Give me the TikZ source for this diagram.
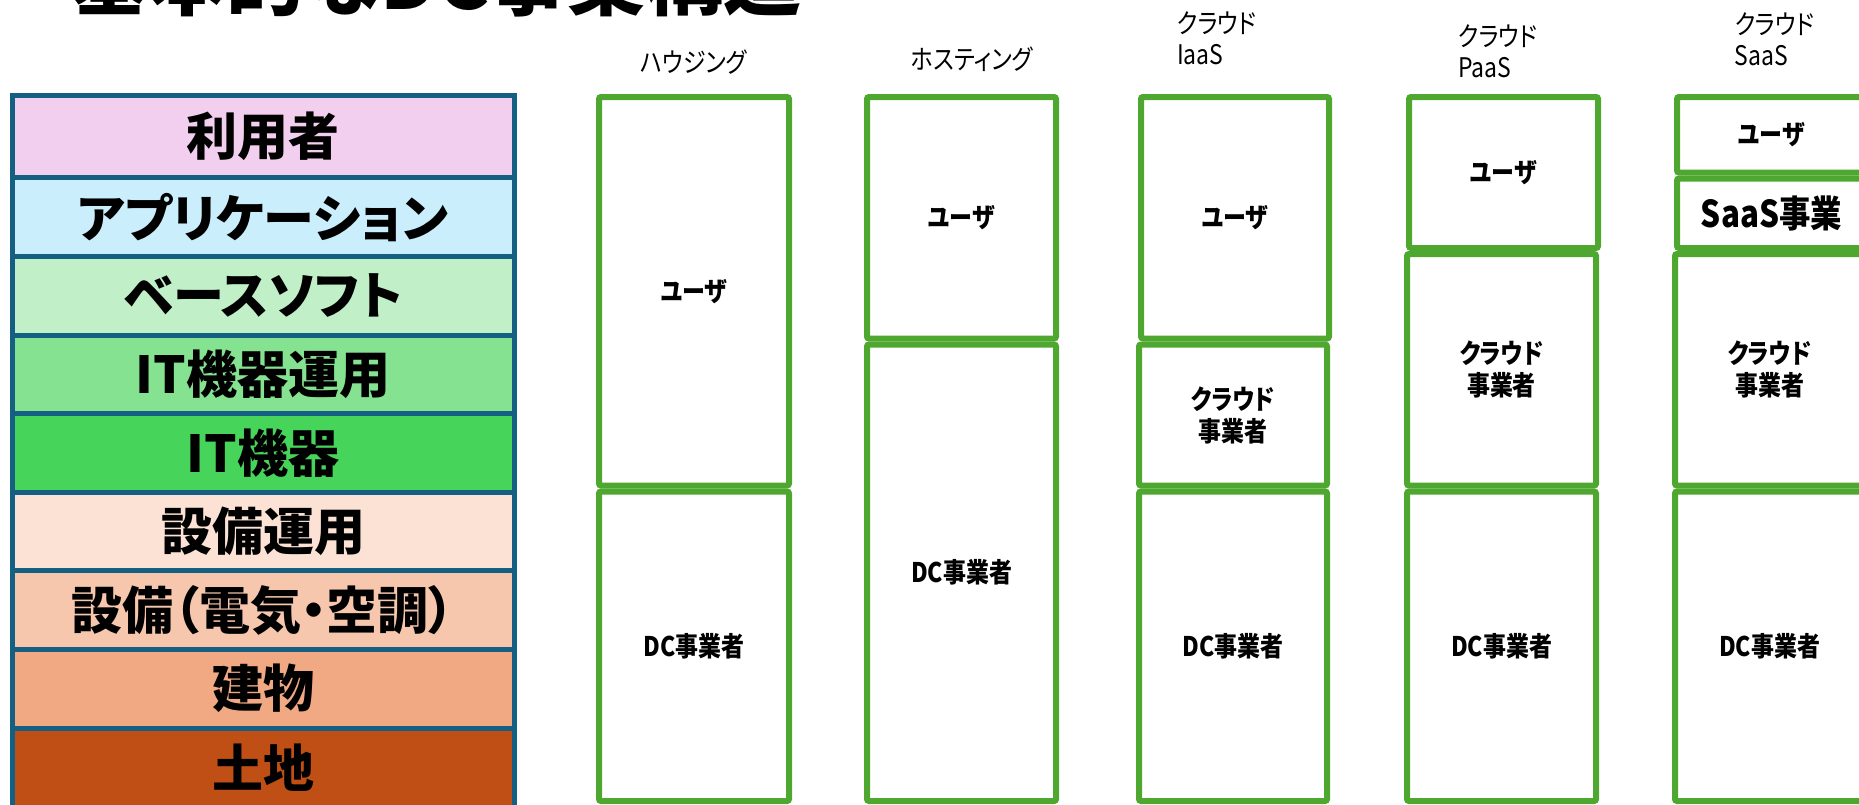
\documentclass[tikz,border=0pt]{standalone}
\usepackage{fontspec}
\setmainfont{Noto Sans CJK JP}[RawFeature=+palt]
\newfontfamily\cond{Noto Sans CJK JP}[FakeStretch=0.85,RawFeature=+palt]
\definecolor{stackblue}{HTML}{156082}
\definecolor{boxgreen}{HTML}{4EA72E}
\definecolor{cpink}{HTML}{F2CEEF}
\definecolor{cblue}{HTML}{CAEEFB}
\definecolor{cgreenA}{HTML}{C1F0C8}
\definecolor{cgreenB}{HTML}{84E291}
\definecolor{cgreenC}{HTML}{47D45A}
\definecolor{cpeachA}{HTML}{FBE2D5}
\definecolor{cpeachB}{HTML}{F6C6AD}
\definecolor{cpeachC}{HTML}{F1A983}
\definecolor{cbrown}{HTML}{C04F15}
\newcommand\placebox[7]{\node[#2,minimum width={(#5)-(#3)},minimum height={(#6)-(#4)}] (#1) at ({((#3)+(#5))/2},{((#4)+(#6))/2}) {#7};}
\begin{document}
\begin{tikzpicture}[x=1pt,y=-1pt,
  stackrow/.style={draw=stackblue, line width=5pt, inner sep=0pt, text=black,
    font=\fontsize{51}{60}\selectfont\bfseries},
  gbox/.style={draw=boxgreen, line width=6pt, rounded corners=2pt, inner sep=0pt,
    align=center, font=\cond\fontsize{27}{32}\selectfont\bfseries},
  hdr/.style={font=\cond\fontsize{27}{31}\selectfont, align=left, inner sep=0pt},
]
\useasboundingbox (0,0) rectangle (1859,804);
\clip (0,0) rectangle (1859,804);
% title
\node[anchor=base west, inner sep=0pt, font=\fontsize{78}{90}\selectfont\bfseries] (title) at (70,9) {基本的なDC事業構造};
% left stack
\placebox{r1}{stackrow,fill=cpink}{12}{95}{514}{177.8}{利用者}
\placebox{r2}{stackrow,fill=cblue}{12}{177.8}{514}{256.4}{アプリケーション}
\placebox{r3}{stackrow,fill=cgreenA}{12}{256.4}{514}{335}{ベースソフト}
\placebox{r4}{stackrow,fill=cgreenB}{12}{335}{514}{413.6}{IT機器運用}
\placebox{r5}{stackrow,fill=cgreenC}{12}{413.6}{514}{492.2}{IT機器}
\placebox{r6}{stackrow,fill=cpeachA}{12}{492.2}{514}{570.8}{設備運用}
\placebox{r7}{stackrow,fill=cpeachB}{12}{570.8}{514}{649.4}{設備（電気・空調）}
\placebox{r8}{stackrow,fill=cpeachC}{12}{649.4}{514}{728}{建物}
\placebox{r9}{stackrow,fill=cbrown}{12}{728}{514}{808}{土地}
% headers
\node[hdr] (h1) at (693.6,61.6) {ハウジング};
\node[hdr] (h2) at (972,59) {ホスティング};
\node[hdr,anchor=west] (h3) at (1177,38.5) {クラウド\\IaaS};
\node[hdr,anchor=west] (h4) at (1458,51.6) {クラウド\\PaaS};
\node[hdr,anchor=west] (h5) at (1734.5,39.7) {クラウド\\SaaS};
% column 1: housing
\placebox{c1u}{gbox}{599}{97}{789}{485.5}{ユーザ}
\placebox{c1d}{gbox}{599}{491.5}{789}{801}{DC事業者}
% column 2: hosting
\placebox{c2u}{gbox}{867}{97}{1056}{338.5}{ユーザ}
\placebox{c2d}{gbox}{867}{344.5}{1056}{801}{DC事業者}
% column 3: IaaS
\placebox{c3u}{gbox}{1141}{97}{1329}{338.5}{ユーザ}
\placebox{c3c}{gbox}{1139}{344.5}{1327}{485.5}{クラウド\\事業者}
\placebox{c3d}{gbox}{1139}{491.5}{1327}{801}{DC事業者}
% column 4: PaaS
\placebox{c4u}{gbox}{1409}{97}{1598}{248}{ユーザ}
\placebox{c4c}{gbox}{1407}{254}{1596}{485.5}{クラウド\\事業者}
\placebox{c4d}{gbox}{1407}{491.5}{1596}{801}{DC事業者}
% column 5: SaaS
\placebox{c5u}{gbox}{1677}{97}{1866}{172.5}{ユーザ}
\placebox{c5s}{gbox,font=\cond\fontsize{37}{44}\selectfont\bfseries}{1677}{178.5}{1866}{248}{SaaS事業}
\placebox{c5c}{gbox}{1675}{254}{1864}{485.5}{クラウド\\事業者}
\placebox{c5d}{gbox}{1675}{491.5}{1864}{801}{DC事業者}
\end{tikzpicture}
\end{document}
